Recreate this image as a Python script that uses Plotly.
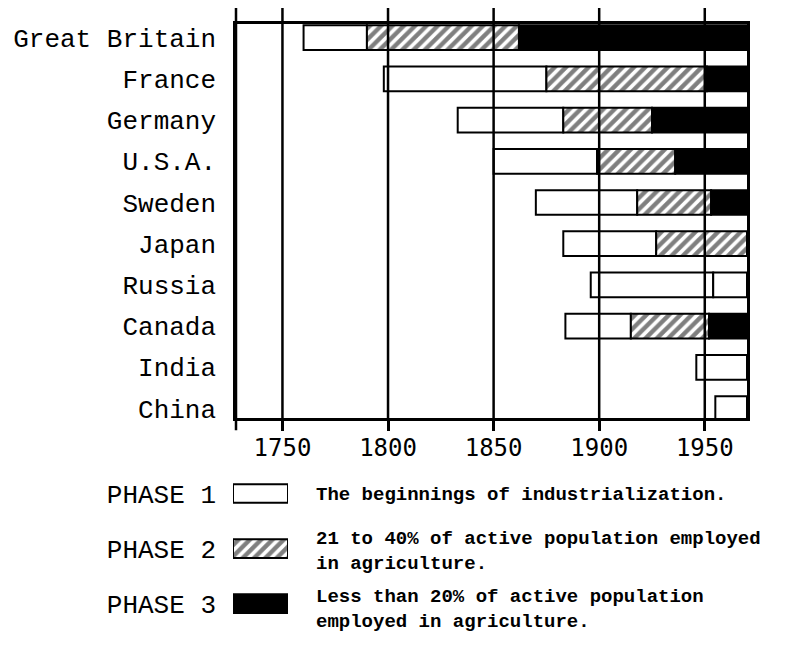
import plotly.graph_objects as go

# ---------------- data ----------------
countries = ["Great Britain", "France", "Germany", "U.S.A.", "Sweden",
             "Japan", "Russia", "Canada", "India", "China"]
phase1_start = [1760, 1798, 1833, 1850, 1870, 1883, 1896, 1884, 1946, 1955]
phase1b_start = [None, None, None, None, None, None, 1954, None, None, None]
phase2_start = [1790, 1875, 1883, 1899, 1918, 1927, None, 1915, None, None]
phase3_start = [1862, 1951, 1925, 1936, 1953, None, None, 1952, None, None]
end_year = 1970
year_ticks = [1750, 1800, 1850, 1900, 1950]

phase_names = ["PHASE 1", "PHASE 2", "PHASE 3"]
phase_desc = [
    ["The beginnings of industrialization."],
    ["21 to 40% of active population employed", "in agriculture."],
    ["Less than 20% of active population", "employed in agriculture."],
]
legend_swatch = [1, 1, 1]

# ---------------- geometry helpers ----------------
# the page body has an 8px margin: the figure is offset by 8px
OFF = 8
W, H = 789 - OFF, 651 - OFF


def px_x(p):
    return (p - OFF) / W


def px_y(p):
    return 1 - (p - OFF) / H


starts_by_order = [phase1_start, phase1b_start, phase2_start, phase3_start]


def segment(i_list):
    bases, lens, ys = [], [], []
    idx = starts_by_order.index(i_list)
    for k, c in enumerate(countries):
        s = i_list[k]
        if s is None:
            continue
        e = end_year
        for later in starts_by_order[idx + 1:]:
            if later[k] is not None:
                e = later[k]
                break
        bases.append(s)
        lens.append(e - s)
        ys.append(c)
    return bases, lens, ys


styles = [
    dict(color="white", pattern=dict(shape="")),
    dict(color="white", pattern=dict(shape="/", fgcolor="black", bgcolor="white",
                                     size=8, solidity=0.55, fillmode="overlay")),
    dict(color="black", pattern=dict(shape="")),
]

fig = go.Figure()

for arr, st in zip(starts_by_order, [styles[0], styles[0], styles[1], styles[2]]):
    b, l, y = segment(arr)
    fig.add_trace(go.Bar(
        orientation="h", base=b, x=l, y=y, width=0.6,
        marker=dict(color=st["color"], pattern=st["pattern"],
                    line=dict(color="black", width=2)),
        showlegend=False, hoverinfo="skip", xaxis="x", yaxis="y"))

# legend swatches on a second small axis pair
for name, val, st in zip(phase_names, legend_swatch, styles):
    fig.add_trace(go.Bar(
        orientation="h", base=[0], x=[val], y=[name], width=0.34,
        marker=dict(color=st["color"], pattern=st["pattern"],
                    line=dict(color="black", width=2)),
        showlegend=False, hoverinfo="skip", xaxis="x2", yaxis="y2"))

# vertical grid lines drawn above the bars, extending above the frame
shapes = []
for t in year_ticks:
    shapes.append(dict(type="line", xref="x", yref="paper", x0=t, x1=t,
                       y0=px_y(423), y1=px_y(8),
                       line=dict(color="black", width=2.5), layer="above"))
shapes.append(dict(type="line", xref="x domain", yref="paper", x0=0, x1=0,
                   y0=px_y(435), y1=px_y(8),
                   line=dict(color="black", width=2.5), layer="above"))

annotations = []
desc_y = [500, 557, 616]
for lines, yy in zip(phase_desc, desc_y):
    annotations.append(dict(
        text="<br>".join(lines), xref="paper", yref="paper",
        x=px_x(314), y=px_y(yy), align="left",
        xanchor="left", yanchor="middle", showarrow=False,
        font=dict(family="Liberation Mono", size=19, color="black",
                  weight="bold")))

fig.update_layout(
    width=W, height=H,
    margin=dict(l=0, r=0, t=0, b=0),
    paper_bgcolor="white", plot_bgcolor="white",
    barmode="overlay",
    xaxis=dict(domain=[px_x(236), px_x(747)], range=[1728, end_year],
               tickvals=year_ticks, ticktext=[str(t) for t in year_ticks],
               ticks="outside", ticklen=10, tickwidth=2.5, tickcolor="black",
               ticklabelstandoff=-4,
               showgrid=False, zeroline=False,
               showline=True, linecolor="black", linewidth=2.5, mirror=True,
               tickfont=dict(family="DejaVu Sans Mono", size=24, color="black"),
               anchor="y"),
    yaxis=dict(domain=[px_y(423), px_y(24)], type="category",
               categoryarray=countries, range=[9.24, -0.335],
               ticks="", showgrid=False, zeroline=False,
               showline=True, linecolor="black", linewidth=2.5, mirror=True,
               ticklabelstandoff=12,
               tickfont=dict(family="Liberation Mono", size=26, color="black"),
               anchor="x"),
    xaxis2=dict(domain=[px_x(233), px_x(288)], range=[0, 1], visible=False,
                anchor="y2"),
    yaxis2=dict(domain=[px_y(638), px_y(471)], type="category",
                categoryarray=phase_names, range=[2.5, -0.5],
                ticks="", showgrid=False, zeroline=False, showline=False,
                ticklabelstandoff=16,
                tickfont=dict(family="Liberation Mono", size=26, color="black"),
                anchor="x2"),
    shapes=shapes,
    annotations=annotations,
)

fig.write_html("out.html")
